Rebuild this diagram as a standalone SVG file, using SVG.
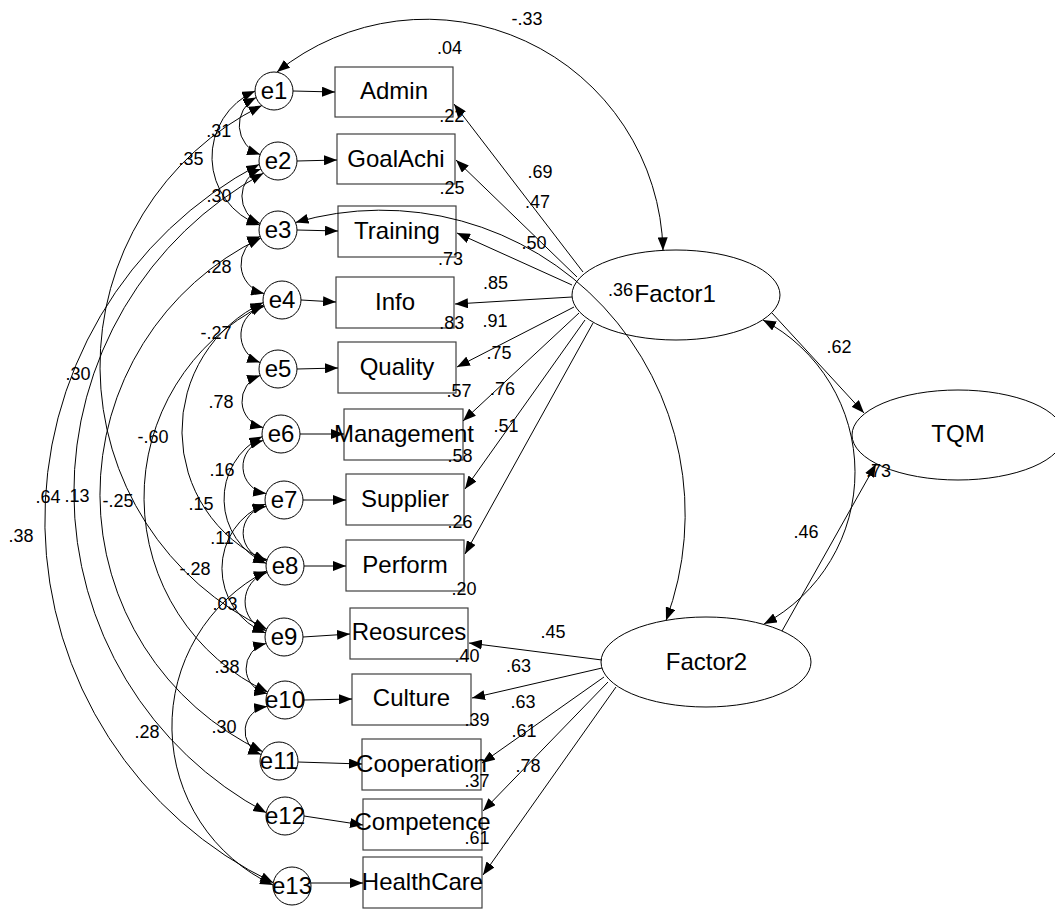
<svg xmlns="http://www.w3.org/2000/svg" width="1055" height="909" viewBox="0 0 1055 909">
<defs>
<marker id="ah" markerUnits="userSpaceOnUse" markerWidth="13" markerHeight="10" refX="13" refY="5" orient="auto-start-reverse" viewBox="0 0 13 10"><path d="M0,0 L13,5 L0,10 z" fill="#000"/></marker>
</defs>
<style>
.box{fill:#fff;stroke:#404040;stroke-width:1.2}
.circ{fill:#fff;stroke:#000;stroke-width:1}
.ell{fill:#fff;stroke:#000;stroke-width:1}
.lbl{font-family:"Liberation Sans",Arial,sans-serif;font-size:24px;text-anchor:middle;fill:#000}
.num{font-family:"Liberation Sans",Arial,sans-serif;font-size:18px;text-anchor:middle;fill:#000}
.c{fill:none;stroke:#000;stroke-width:1}
.one{marker-end:url(#ah)}
.two{marker-start:url(#ah);marker-end:url(#ah)}
</style>
<rect width="1055" height="909" fill="#fff"/>
<g id="nodes">
<g id="Admin"><rect class="box" x="335" y="67" width="118" height="50"/><text class="lbl" x="394" y="99">Admin</text></g>
<g id="GoalAchi"><rect class="box" x="337" y="134" width="118" height="50"/><text class="lbl" x="396" y="167">GoalAchi</text></g>
<g id="Training"><rect class="box" x="338" y="206" width="118" height="51"/><text class="lbl" x="397" y="239">Training</text></g>
<g id="Info"><rect class="box" x="336" y="277" width="118" height="51"/><text class="lbl" x="395" y="310">Info</text></g>
<g id="Quality"><rect class="box" x="338" y="342" width="118" height="51"/><text class="lbl" x="397" y="375">Quality</text></g>
<g id="Management"><rect class="box" x="344" y="409" width="119" height="51"/><text class="lbl" x="404" y="442">Management</text></g>
<g id="Supplier"><rect class="box" x="346" y="474" width="118" height="51"/><text class="lbl" x="405" y="507">Supplier</text></g>
<g id="Perform"><rect class="box" x="346" y="540" width="118" height="51"/><text class="lbl" x="405" y="573">Perform</text></g>
<g id="Reosurces"><rect class="box" x="350" y="608" width="118" height="51"/><text class="lbl" x="409" y="640">Reosurces</text></g>
<g id="Culture"><rect class="box" x="352" y="674" width="119" height="51"/><text class="lbl" x="411.5" y="706">Culture</text></g>
<g id="Cooperation"><rect class="box" x="362" y="739" width="119" height="51"/><text class="lbl" x="421.5" y="771.5">Cooperation</text></g>
<g id="Competence"><rect class="box" x="363" y="799" width="119" height="51"/><text class="lbl" x="422.5" y="830">Competence</text></g>
<g id="HealthCare"><rect class="box" x="363" y="857" width="119" height="51"/><text class="lbl" x="422.5" y="890">HealthCare</text></g>
<g id="e1"><circle class="circ" cx="274" cy="91" r="19"/><text class="lbl" x="274" y="99">e1</text></g>
<g id="e2"><circle class="circ" cx="278" cy="161" r="19"/><text class="lbl" x="278" y="169">e2</text></g>
<g id="e3"><circle class="circ" cx="278" cy="230" r="19"/><text class="lbl" x="278" y="238">e3</text></g>
<g id="e4"><circle class="circ" cx="282" cy="300" r="19"/><text class="lbl" x="282" y="308">e4</text></g>
<g id="e5"><circle class="circ" cx="278" cy="369" r="19"/><text class="lbl" x="278" y="377">e5</text></g>
<g id="e6"><circle class="circ" cx="281" cy="434" r="19"/><text class="lbl" x="281" y="442">e6</text></g>
<g id="e7"><circle class="circ" cx="284" cy="500" r="19"/><text class="lbl" x="284" y="508">e7</text></g>
<g id="e8"><circle class="circ" cx="285" cy="566" r="19"/><text class="lbl" x="285" y="574">e8</text></g>
<g id="e9"><circle class="circ" cx="284" cy="637" r="19"/><text class="lbl" x="284" y="645">e9</text></g>
<g id="e10"><circle class="circ" cx="285" cy="700" r="19"/><text class="lbl" x="285" y="708">e10</text></g>
<g id="e11"><circle class="circ" cx="279" cy="761" r="19"/><text class="lbl" x="279" y="769">e11</text></g>
<g id="e12"><circle class="circ" cx="285" cy="816" r="19"/><text class="lbl" x="285" y="824">e12</text></g>
<g id="e13"><circle class="circ" cx="292" cy="886" r="19"/><text class="lbl" x="292" y="894">e13</text></g>
<g id="Factor1"><ellipse class="ell" cx="676" cy="295" rx="104" ry="45"/><text class="num" x="608" y="296" style="text-anchor:start">.36</text><text class="lbl" x="634.5" y="302" style="text-anchor:start">Factor1</text></g>
<g id="Factor2"><ellipse class="ell" cx="706" cy="662" rx="105" ry="45"/><text class="lbl" x="706.5" y="670">Factor2</text></g>
<g id="TQM"><ellipse class="ell" cx="958" cy="435" rx="106" ry="45"/><text class="lbl" x="958" y="442">TQM</text></g>
</g>
<g id="connectors">
<path class="c one" d="M583,272 L454,104"/>
<path class="c one" d="M577,277 L456,160"/>
<path class="c one" d="M572,285 L457,233"/>
<path class="c one" d="M572,297 L455,304"/>
<path class="c one" d="M574,307 L457,367"/>
<path class="c one" d="M579,313 L463,421"/>
<path class="c one" d="M585,320 L465,489"/>
<path class="c one" d="M593,323 L465,554"/>
<path class="c one" d="M602,660 L469,643"/>
<path class="c one" d="M602,668 L472,698"/>
<path class="c one" d="M604,677 L482,763"/>
<path class="c one" d="M608,682 L483,811"/>
<path class="c one" d="M616,687 L483,875"/>
<path class="c one" d="M293,91 L335,92"/>
<path class="c one" d="M297,161 L337,160"/>
<path class="c one" d="M297,230 L338,231"/>
<path class="c one" d="M301,300 L336,302"/>
<path class="c one" d="M297,369 L338,368"/>
<path class="c one" d="M300,434 L344,434"/>
<path class="c one" d="M303,500 L346,500"/>
<path class="c one" d="M304,566 L346,566"/>
<path class="c one" d="M303,637 L350,634"/>
<path class="c one" d="M304,700 L352,699"/>
<path class="c one" d="M298,762 L362,764"/>
<path class="c one" d="M304,816 L363,825"/>
<path class="c one" d="M311,883 L363,883"/>
<path class="c one" d="M772,313 L864,413"/>
<path class="c one" d="M782,631 L876,464"/>
<path class="c two" d="M763,320 A172,172 0 0 1 764,624"/>
<path class="c two" d="M277,72 A237,237 0 0 1 663,250.4"/>
<path class="c two" d="M295.5,222.5 A304,304 0 0 1 666,620.4"/>
<path class="c two" d="M256.1,97.5 A31.1,31.1 0 0 0 260.1,154.5"/>
<path class="c two" d="M260.8,169 A29.3,29.3 0 0 0 260.1,223.5"/>
<path class="c two" d="M260.1,236.5 A29.9,29.9 0 0 0 264.1,293.5"/>
<path class="c two" d="M264.1,306.5 A29.2,29.2 0 0 0 260.1,362.5"/>
<path class="c two" d="M260.1,375.5 A27.1,27.1 0 0 0 263.1,427.5"/>
<path class="c two" d="M263.1,440.5 A27.1,27.1 0 0 0 266.1,493.5"/>
<path class="c two" d="M266.1,506.5 A26.7,26.7 0 0 0 267.1,559.5"/>
<path class="c two" d="M267.1,572.5 A30.3,30.3 0 0 0 266.1,630.5"/>
<path class="c two" d="M266.1,643.5 A25.5,25.5 0 0 0 267.1,693.5"/>
<path class="c two" d="M267.1,706.5 A24.9,24.9 0 0 0 261.1,754.5"/>
<path class="c two" d="M255.1,91 A72.3,72.3 0 0 0 259.6,225.1"/>
<path class="c two" d="M261.8,105.6 A290.6,290.6 0 0 0 266.8,629"/>
<path class="c two" d="M259.3,164.3 A402.2,402.2 0 0 0 273.3,882.7"/>
<path class="c two" d="M263.4,173.2 A363.2,363.2 0 0 0 266.3,812.7"/>
<path class="c two" d="M260.8,238 A284.7,284.7 0 0 0 262.5,751.5"/>
<path class="c two" d="M263.6,304.9 A214.8,214.8 0 0 0 267.8,692"/>
<path class="c two" d="M263.2,302.6 A142.2,142.2 0 0 0 266.6,561.1"/>
<path class="c two" d="M266.6,570.9 A175,175 0 0 0 273,885"/>
<path class="c two" d="M262.2,436.6 A70.2,70.2 0 0 0 266.2,563.4"/>
<path class="c two" d="M265.4,504 A69.6,69.6 0 0 0 265.4,633"/>
</g>
<g id="labels">
<text class="num" x="527" y="25">-.33</text>
<text class="num" x="449.5" y="54">.04</text>
<text class="num" x="540" y="178">.69</text>
<text class="num" x="537.5" y="207.5">.47</text>
<text class="num" x="534" y="248.5">.50</text>
<text class="num" x="495.5" y="289">.85</text>
<text class="num" x="495" y="326.5">.91</text>
<text class="num" x="499" y="358.5">.75</text>
<text class="num" x="502.5" y="395">.76</text>
<text class="num" x="506" y="431.5">.51</text>
<text class="num" x="839" y="353">.62</text>
<text class="num" x="806" y="538">.46</text>
<text class="num" x="878.5" y="477">.73</text>
<text class="num" x="553" y="638">.45</text>
<text class="num" x="518.5" y="671.5">.63</text>
<text class="num" x="523" y="708">.63</text>
<text class="num" x="524" y="736.5">.61</text>
<text class="num" x="528" y="771.5">.78</text>
<text class="num" x="451.7" y="122">.22</text>
<text class="num" x="452" y="194">.25</text>
<text class="num" x="450.5" y="265">.73</text>
<text class="num" x="451.7" y="328.5">.83</text>
<text class="num" x="459" y="396.5">.57</text>
<text class="num" x="460" y="461.5">.58</text>
<text class="num" x="460" y="527.5">.26</text>
<text class="num" x="464" y="594.5">.20</text>
<text class="num" x="467" y="661.5">.40</text>
<text class="num" x="477" y="725.5">.39</text>
<text class="num" x="477" y="786.5">.37</text>
<text class="num" x="477" y="843.5">.61</text>
<text class="num" x="218.7" y="136.5">.31</text>
<text class="num" x="191" y="165">.35</text>
<text class="num" x="219" y="201.5">.30</text>
<text class="num" x="219" y="272.5">.28</text>
<text class="num" x="216" y="338.5">-.27</text>
<text class="num" x="78" y="379.5">.30</text>
<text class="num" x="221" y="407.5">.78</text>
<text class="num" x="153" y="443">-.60</text>
<text class="num" x="222" y="475.5">.16</text>
<text class="num" x="48" y="503">.64</text>
<text class="num" x="77" y="501.5">.13</text>
<text class="num" x="118" y="506.5">-.25</text>
<text class="num" x="201" y="509.5">.15</text>
<text class="num" x="21" y="541.5">.38</text>
<text class="num" x="222" y="543.5">.11</text>
<text class="num" x="195" y="574.5">-.28</text>
<text class="num" x="225" y="609.5">.03</text>
<text class="num" x="227" y="672.5">.38</text>
<text class="num" x="224" y="732.5">.30</text>
<text class="num" x="147" y="738">.28</text>
</g>
</svg>
